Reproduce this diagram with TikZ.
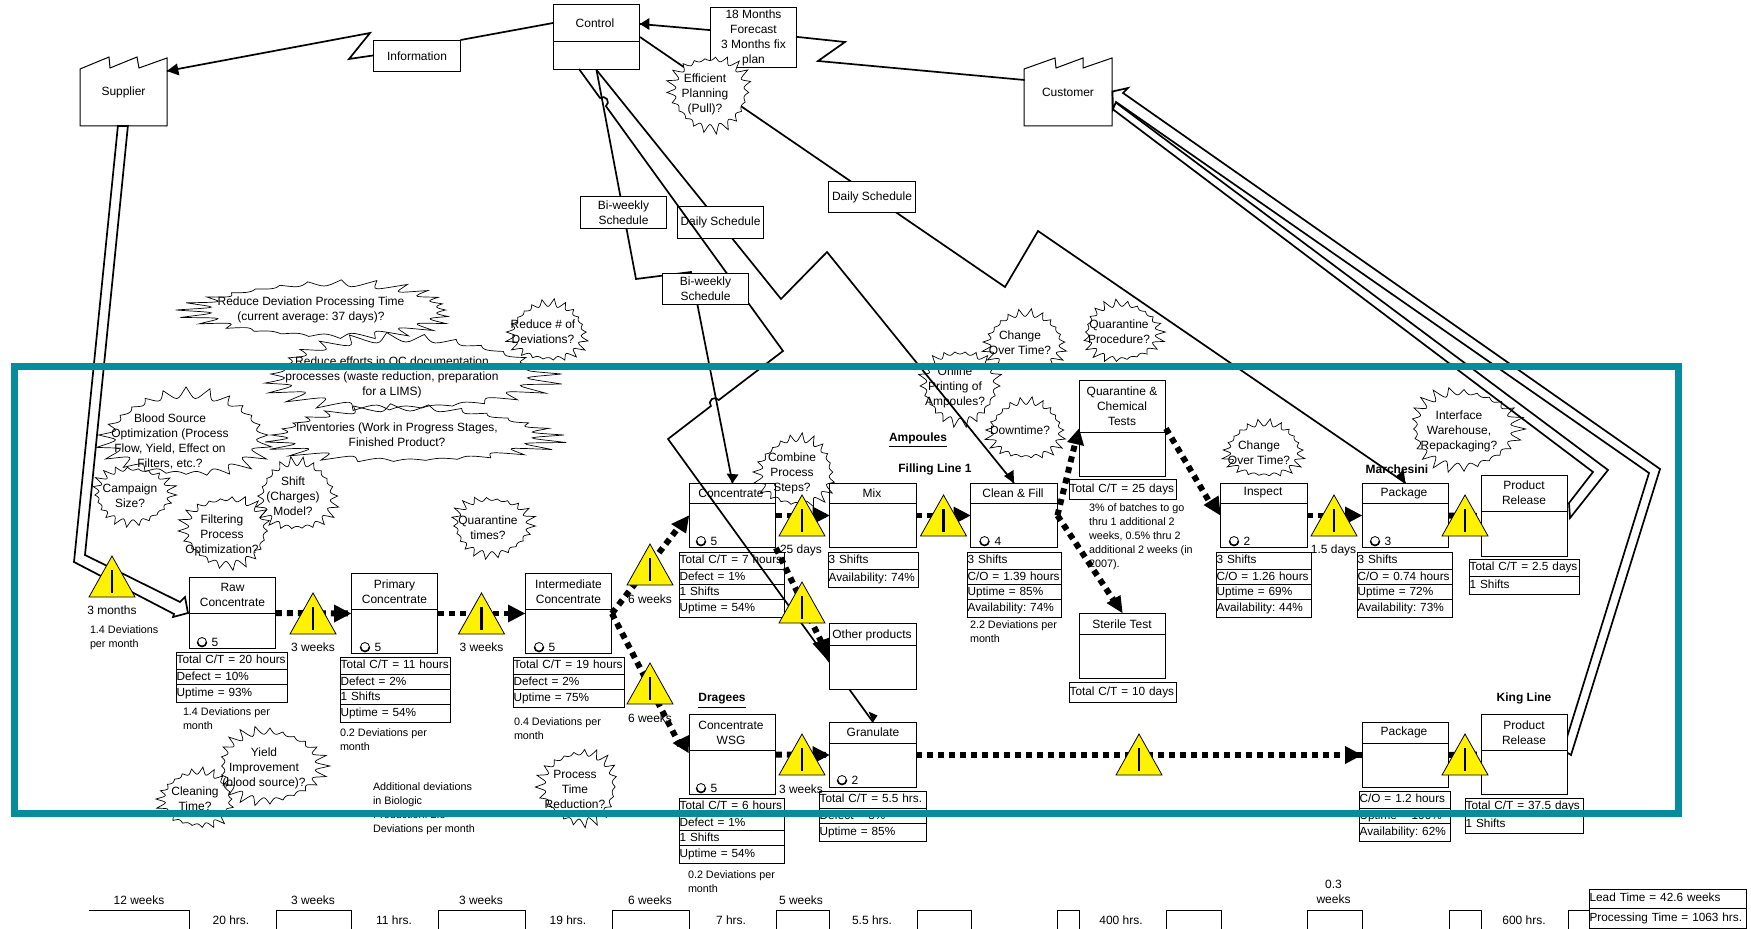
\documentclass[tikz,border=0pt]{standalone}
\usepackage{fontspec}
\setmainfont{Liberation Sans}
\definecolor{framecolor}{HTML}{078C9E}
\newcommand{\burst}[6][]{%
  \pgfmathtruncatemacro{\burstsamples}{8*#6+1}%
  \draw [burstline,#1] plot [domain=0:360,samples=\burstsamples]
    ({#2+#4*(0.8+0.25*(0.6+0.4*sin(3*\x+#2*30))*(1-abs(sin(#6*\x/2))))*cos(\x)},
     {#3+#5*(0.8+0.25*(0.6+0.4*sin(3*\x+#2*30))*(1-abs(sin(#6*\x/2))))*sin(\x)}) -- cycle;
}
\begin{document}
\frenchspacing
\begin{tikzpicture}[scale=0.176]
        \tikzstyle{every node}+=[inner sep=0pt,outer sep=0pt]
        \tikzstyle{procbox}=[draw,fill=white,line width=0.5pt,minimum width=43.5pt]
        \tikzstyle{textbox}=[draw,fill=white,line width=0.5pt,minimum width=43.5pt,align=center,font=\fontsize{6}{7.5}\selectfont]
        \tikzstyle{boxlabel}=[align=center,font=\fontsize{6}{7.5}\selectfont]
        \tikzstyle{headlabel}=[align=center,font=\fontsize{6}{7.5}\selectfont\bfseries]
        \tikzstyle{notelabel}=[anchor=north west,align=left,font=\fontsize{5.4}{7}\selectfont]
        \tikzstyle{datarow}=[draw,fill=white,anchor=north west,line width=0.5pt,inner xsep=0.3pt,minimum height=7.5pt,text height=4.3pt,text depth=1.3pt,align=left,font=\fontsize{5.9}{7}\selectfont]
        \tikzstyle{dataedge}=[datarow,minimum height=8.8pt]
        \tikzstyle{infoline}=[black,line width=0.85pt]
        \tikzstyle{shipline}=[black,line width=0.85pt,line join=miter]
        \tikzstyle{pushline}=[black,line width=3pt,dash pattern=on 3pt off 2.5pt]
        \tikzstyle{burstline}=[black,line width=0.35pt,line join=miter]
        \tikzstyle{warntri}=[draw=black,fill=yellow,line width=0.4pt]
        \tikzstyle{warnbar}=[black,line width=1.3pt]
        \tikzstyle{opicon}=[circle,draw,line width=0.4pt,minimum size=4.5pt]
        \useasboundingbox (0,0) rectangle (175.1,-92.9);
        \fill [white] (0,0) rectangle (175.1,-92.9);
        \node [textbox,minimum height=30.5pt] (months) at (75.35,-3.75) {18 Months\\Forecast\\3 Months fix\\plan};
        \node [textbox,minimum height=16pt] (information) at (41.7,-5.6) {Information};
        \node [procbox,minimum height=33pt] (control) at (59.65,-3.7) {};
        \draw (control.west |- 0,-4.1) -- (control.east |- 0,-4.1);
        \node [boxlabel] (controllabel) at (59.5,-2.3) {Control};
        \draw [black,line width=0.5pt] (8,-12.6) -- (8,-6.9) -- (10.9,-5.7) -- (11,-6.8) -- (13.7,-5.7) -- (13.9,-6.8) -- (16.7,-5.8) -- (16.7,-12.6) -- cycle;
        \node [boxlabel,minimum width=43.5pt,minimum height=34pt] (supplier) at (12.35,-9.2) {Supplier};
        \draw [black,line width=0.5pt] (102.4,-12.6) -- (102.4,-6.9) -- (105.5,-5.8) -- (105.6,-6.8) -- (108.3,-5.8) -- (108.3,-6.8) -- (111.2,-5.8) -- (111.2,-12.6) -- cycle;
        \node [boxlabel,minimum width=43.5pt,minimum height=34pt] (customer) at (106.8,-9.2) {Customer};
        \draw [infoline] ([shift={(0,1.2)}]customer.west) -- (81.8,-6.1) -- (84.5,-4.2) -- ([shift={(0,0.06)}]months.east);
        \draw [infoline] ([shift={(0,0.74)}]months.west) -- ([shift={(0,1.3)}]control.east);
        \fill [black] ([shift={(0,1.3)}]control.east) -- ++(0.95,0.6) -- ++(0,-1.2) -- cycle;
        \draw [infoline] ([shift={(0,1.4)}]control.west) -- (information.north east);
        \draw [infoline] ([shift={(0,0.06)}]information.west) -- (34.9,-5.9) -- (37,-3.3) -- ([shift={(0,2.1)}]supplier.east);
        \fill [black] ([shift={(0,2.1)}]supplier.east) -- ++(1,0.75) -- ++(0.25,-1.2) -- cycle;
        \draw [shipline] ([shift={(-0.56,0)}]supplier.south) -- (7.4,-56.2) -- (17.4,-61.4) -- (17.3,-61.7) -- (18.8,-61.3) -- (18.5,-59.7) -- (18,-60.2) -- (8.5,-55.5) -- ([shift={(0.44,0)}]supplier.south) -- cycle;
        \draw [shipline] ([shift={(0.1,0.05)}]customer.east) -- (112.8,-8.8) -- (112.3,-9.3) -- (166,-46.9) -- (157.1,-75.5) -- (156.3,-75) -- (164.9,-47.3) -- (111.6,-10.2) -- (111.3,-10.9) -- cycle;
        \draw [shipline] ([shift={(0.5,-1.1)}]customer.east) -- (160.8,-47) -- (157,-51.8) -- (156.9,-50.3) -- (159.3,-47.2) -- ([shift={(0.1,-1.7)}]customer.east);
        \node [procbox,minimum height=36pt] (raw) at (23.25,-61.3) {};
        \draw (raw.west |- 0,-61.3) -- (raw.east |- 0,-61.3);
        \node [boxlabel] (rawlabel) at (23.25,-59.5) {Raw\\Concentrate};
        \node [procbox,minimum height=40.5pt] (primary) at (39.45,-61.35) {};
        \draw (primary.west |- 0,-60.9) -- (primary.east |- 0,-60.9);
        \node [boxlabel] (primarylabel) at (39.45,-59.15) {Primary\\Concentrate};
        \node [procbox,minimum height=40.5pt] (intermediate) at (56.85,-61.35) {};
        \draw (intermediate.west |- 0,-60.9) -- (intermediate.east |- 0,-60.9);
        \node [boxlabel] (intermediatelabel) at (56.85,-59.15) {Intermediate\\Concentrate};
        \node [procbox,minimum height=32.5pt] (concentrate) at (73.25,-51.55) {};
        \draw (concentrate.west |- 0,-50.3) -- (concentrate.east |- 0,-50.3);
        \node [boxlabel] (concentratelabel) at (73.1,-49.3) {Concentrate};
        \node [procbox,minimum height=32.5pt] (mix) at (87.3,-51.55) {};
        \draw (mix.west |- 0,-50.3) -- (mix.east |- 0,-50.3);
        \node [boxlabel] (mixlabel) at (87.2,-49.3) {Mix};
        \node [procbox,minimum height=32.5pt] (clean) at (101.4,-51.55) {};
        \draw (clean.west |- 0,-50.3) -- (clean.east |- 0,-50.3);
        \node [boxlabel] (cleanlabel) at (101.3,-49.3) {Clean \& Fill};
        \node [procbox,minimum height=48.5pt] (quarantine) at (112.25,-42.85) {};
        \draw (quarantine.west |- 0,-43.2) -- (quarantine.east |- 0,-43.2);
        \node [boxlabel] (quarantinelabel) at (112.2,-40.6) {Quarantine \&\\Chemical\\Tests};
        \node [procbox,minimum height=32.5pt] (inspect) at (126.4,-51.55) {};
        \draw (inspect.west |- 0,-50.3) -- (inspect.east |- 0,-50.3);
        \node [boxlabel] (inspectlabel) at (126.3,-49.3) {Inspect};
        \node [procbox,minimum height=32.5pt] (package) at (140.55,-51.55) {};
        \draw (package.west |- 0,-50.3) -- (package.east |- 0,-50.3);
        \node [boxlabel] (packagelabel) at (140.4,-49.3) {Package};
        \node [procbox,minimum height=41pt] (prone) at (152.45,-51.6) {};
        \draw (prone.west |- 0,-51.1) -- (prone.east |- 0,-51.1);
        \node [boxlabel] (pronelabel) at (152.4,-49.3) {Product\\Release};
        \node [procbox,minimum height=33pt] (sterile) at (112.25,-64.6) {};
        \draw (sterile.west |- 0,-63.4) -- (sterile.east |- 0,-63.4);
        \node [boxlabel] (sterilelabel) at (112.2,-62.4) {Sterile Test};
        \node [procbox,minimum height=40.5pt] (wsg) at (73.25,-75.45) {};
        \draw (wsg.west |- 0,-75) -- (wsg.east |- 0,-75);
        \node [boxlabel] (wsglabel) at (73.1,-73.25) {Concentrate\\WSG};
        \node [procbox,minimum height=33pt] (granulate) at (87.3,-75.5) {};
        \draw (granulate.west |- 0,-74.3) -- (granulate.east |- 0,-74.3);
        \node [boxlabel] (granulatelabel) at (87.3,-73.2) {Granulate};
        \node [procbox,minimum height=33pt] (packagetwo) at (140.55,-75.5) {};
        \draw (packagetwo.west |- 0,-74.3) -- (packagetwo.east |- 0,-74.3);
        \node [boxlabel] (packagetwolabel) at (140.4,-73.2) {Package};
        \node [procbox,minimum height=40.5pt] (prtwo) at (152.45,-75.45) {};
        \draw (prtwo.west |- 0,-75) -- (prtwo.east |- 0,-75);
        \node [boxlabel] (prtwolabel) at (152.4,-73.25) {Product\\Release};
        \node [dataedge,text width=52.4pt] (concentrateone) at (67.9,-55.2) {Total C/T = 7 hours};
        \node [datarow,text width=52.4pt] (concentratetwo) at (concentrateone.south west) {Defect = 1\%};
        \node [datarow,text width=52.4pt] (concentratethree) at (concentratetwo.south west) {1 Shifts};
        \node [dataedge,text width=52.4pt] (concentratefour) at (concentratethree.south west) {Uptime = 54\%};
        \draw [infoline] (control.south) -- (63.6,-27.9) -- (69.1,-27.2) -- (concentrate.north);
        \fill [black] (concentrate.north) -- ++(-0.6,0.95) -- ++(1.2,-0.1) -- cycle;
        \draw [infoline] (control.south) -- (78.1,-29.9) -- (82.7,-25.2) -- (clean.north);
        \fill [black] (clean.north) -- ++(-1,0.7) -- ++(0.95,0.6) -- cycle;
        \draw [infoline] (control.east) -- (100.5,-28.7) -- (103.8,-23.1) -- (package.north);
        \fill [black] (package.north) -- ++(-1,0.6) -- ++(0.8,0.75) -- cycle;
        \node [textbox,minimum height=16pt] (dailytwo) at (72.05,-22.25) {Daily Schedule};
        \draw [infoline] (57.9,-6.9) -- (60,-9.8) arc [start angle=126,end angle=-54,radius=0.5] -- (78.3,-35.1) -- (71.88,-40) arc [start angle=37.4,end angle=217.4,radius=0.5] -- (66.8,-43.9) -- (granulate.north);
        \fill [black] (granulate.north) -- ++(-0.45,1.05) -- ++(0.9,-0.4) -- cycle;
        \node [procbox,minimum height=33.5pt] (other) at (87.3,-65.65) {};
        \draw (other.west |- 0,-64.5) -- (other.east |- 0,-64.5);
        \node [boxlabel] (otherlabel) at (87.2,-63.5) {Other products};
        \node [textbox,minimum height=16.5pt] (biweeklyone) at (62.35,-21.25) {Bi-weekly\\Schedule};
        \node [textbox,minimum height=16pt] (biweeklytwo) at (70.55,-28.9) {Bi-weekly\\Schedule};
        \node [textbox,minimum height=16pt] (dailyone) at (87.2,-19.7) {Daily Schedule};
        \burst[fill=white]{71}{-9.25}{4.3}{4}{22}
        \node [boxlabel] (efficient) at (70.5,-9.4) {Efficient\\Planning\\(Pull)?};
        \node [dataedge,text width=55.4pt] (rawone) at (17.6,-65.2) {Total C/T = 20 hours};
        \node [datarow,text width=55.4pt] (rawtwo) at (rawone.south west) {Defect = 10\%};
        \node [dataedge,text width=55.4pt] (rawthree) at (rawtwo.south west) {Uptime = 93\%};
        \node [dataedge,text width=54.9pt] (primaryone) at (34,-65.7) {Total C/T = 11 hours};
        \node [datarow,text width=54.9pt] (primarytwo) at (primaryone.south west) {Defect = 2\%};
        \node [datarow,text width=54.9pt] (primarythree) at (primarytwo.south west) {1 Shifts};
        \node [dataedge,text width=54.9pt] (primaryfour) at (primarythree.south west) {Uptime = 54\%};
        \node [dataedge,text width=55.4pt] (intermediateone) at (51.3,-65.7) {Total C/T = 19 hours};
        \node [datarow,text width=55.4pt] (intermediatetwo) at (intermediateone.south west) {Defect = 2\%};
        \node [dataedge,text width=55.4pt] (intermediatethree) at (intermediatetwo.south west) {Uptime = 75\%};
        \node [dataedge,text width=44.9pt] (mixone) at (82.8,-55.2) {3 Shifts};
        \node [dataedge,text width=44.9pt] (mixtwo) at (mixone.south west) {Availability: 74\%};
        \node [dataedge,text width=46.9pt] (cleanone) at (96.7,-55.2) {3 Shifts};
        \node [datarow,text width=46.9pt] (cleantwo) at (cleanone.south west) {C/O = 1.39 hours};
        \node [datarow,text width=46.9pt] (cleanthree) at (cleantwo.south west) {Uptime = 85\%};
        \node [dataedge,text width=46.9pt] (cleanfour) at (cleanthree.south west) {Availability: 74\%};
        \node [dataedge,text width=53.4pt,minimum height=10.5pt] (quarantineone) at (106.9,-47.9) {Total C/T = 25 days};
        \node [dataedge,text width=53.4pt,minimum height=10.5pt] (sterileone) at (106.9,-68.2) {Total C/T = 10 days};
        \node [dataedge,text width=47.4pt] (inspectone) at (121.6,-55.2) {3 Shifts};
        \node [datarow,text width=47.4pt] (inspecttwo) at (inspectone.south west) {C/O = 1.26 hours};
        \node [datarow,text width=47.4pt] (inspectthree) at (inspecttwo.south west) {Uptime = 69\%};
        \node [dataedge,text width=47.4pt] (inspectfour) at (inspectthree.south west) {Availability: 44\%};
        \node [dataedge,text width=47.4pt] (packageone) at (135.7,-55.2) {3 Shifts};
        \node [datarow,text width=47.4pt] (packagetwodata) at (packageone.south west) {C/O = 0.74 hours};
        \node [datarow,text width=47.4pt] (packagethree) at (packagetwodata.south west) {Uptime = 72\%};
        \node [dataedge,text width=47.4pt] (packagefour) at (packagethree.south west) {Availability: 73\%};
        \node [dataedge,text width=54.9pt] (proneone) at (146.9,-55.9) {Total C/T = 2.5 days};
        \node [dataedge,text width=54.9pt] (pronetwo) at (proneone.south west) {1 Shifts};
        \node [dataedge,text width=52.4pt] (wsgone) at (67.9,-79.8) {Total C/T = 6 hours};
        \node [datarow,text width=52.4pt] (wsgtwo) at (wsgone.south west) {Defect = 1\%};
        \node [datarow,text width=52.4pt] (wsgthree) at (wsgtwo.south west) {1 Shifts};
        \node [dataedge,text width=52.4pt] (wsgfour) at (wsgthree.south west) {Uptime = 54\%};
        \node [dataedge,text width=53.4pt] (granulateone) at (81.9,-79.1) {Total C/T = 5.5 hrs.};
        \node [datarow,text width=53.4pt] (granulatetwo) at (granulateone.south west) {Defect = 3\%};
        \node [dataedge,text width=53.4pt] (granulatethree) at (granulatetwo.south west) {Uptime = 85\%};
        \node [dataedge,text width=45.4pt] (packagetwoone) at (135.9,-79.1) {C/O = 1.2 hours};
        \node [datarow,text width=45.4pt] (packagetwotwo) at (packagetwoone.south west) {Uptime = 100\%};
        \node [dataedge,text width=45.4pt] (packagetwothree) at (packagetwotwo.south west) {Availability: 62\%};
        \node [dataedge,text width=58.9pt] (prtwoone) at (146.5,-79.8) {Total C/T = 37.5 days};
        \node [dataedge,text width=58.9pt] (prtwotwo) at (prtwoone.south west) {1 Shifts};
        \node [opicon] (rawop) at (20.2,-64.2) {};
        \draw [line width=0.8pt] (rawop.west) arc [start angle=180,end angle=360,radius=0.45];
        \node [boxlabel] (rawcount) at (21.5,-64.2) {5};
        \node [opicon] (primaryop) at (36.5,-64.7) {};
        \draw [line width=0.8pt] (primaryop.west) arc [start angle=180,end angle=360,radius=0.45];
        \node [boxlabel] (primarycount) at (37.8,-64.7) {5};
        \node [opicon] (intermediateop) at (53.9,-64.7) {};
        \draw [line width=0.8pt] (intermediateop.west) arc [start angle=180,end angle=360,radius=0.45];
        \node [boxlabel] (intermediatecount) at (55.2,-64.7) {5};
        \node [opicon] (concentrateop) at (70.1,-54.1) {};
        \draw [line width=0.8pt] (concentrateop.west) arc [start angle=180,end angle=360,radius=0.45];
        \node [boxlabel] (concentratecount) at (71.4,-54.1) {5};
        \node [opicon] (wsgop) at (70.1,-78.8) {};
        \draw [line width=0.8pt] (wsgop.west) arc [start angle=180,end angle=360,radius=0.45];
        \node [boxlabel] (wsgcount) at (71.4,-78.8) {5};
        \node [opicon] (granulateop) at (84.2,-78) {};
        \draw [line width=0.8pt] (granulateop.west) arc [start angle=180,end angle=360,radius=0.45];
        \node [boxlabel] (granulatecount) at (85.5,-78) {2};
        \node [opicon] (cleanop) at (98.45,-54.1) {};
        \draw [line width=0.8pt] (cleanop.west) arc [start angle=180,end angle=360,radius=0.45];
        \node [boxlabel] (cleancount) at (99.8,-54.1) {4};
        \node [opicon] (inspectop) at (123.4,-54.1) {};
        \draw [line width=0.8pt] (inspectop.west) arc [start angle=180,end angle=360,radius=0.45];
        \node [boxlabel] (inspectcount) at (124.7,-54.1) {2};
        \node [opicon] (packageop) at (137.5,-54.1) {};
        \draw [line width=0.8pt] (packageop.west) arc [start angle=180,end angle=360,radius=0.45];
        \node [boxlabel] (packagecount) at (138.8,-54.1) {3};
        \draw [pushline] (raw.east) -- (primary.west);
        \fill [black] (primary.west) -- ++(-1.7,0.9) -- ++(0,-1.8) -- cycle;
        \draw [pushline] (primary.east) -- (intermediate.west);
        \fill [black] (intermediate.west) -- ++(-1.7,0.9) -- ++(0,-1.8) -- cycle;
        \draw [pushline] (intermediate.east) -- ([shift={(-0.9,-1.0)}]concentrate.west);
        \fill [black] (concentrate.west) -- ++(-1.8,-0.85) -- ++(1.5,-0.95) -- cycle;
        \draw [pushline] (intermediate.east) -- ([shift={(-0.9,0.9)}]wsg.west);
        \fill [black] (wsg.west) ++(0,1.95) -- ++(-1.65,-0.8) -- ++(1.6,-1) -- cycle;
        \draw [pushline] (concentrate.east) -- (mix.west);
        \fill [black] (mix.west) -- ++(-1.7,0.9) -- ++(0,-1.8) -- cycle;
        \draw [pushline] (mix.east) -- (clean.west);
        \fill [black] (clean.west) -- ++(-1.7,0.9) -- ++(0,-1.8) -- cycle;
        \draw [pushline] (concentrate.south east) -- ([shift={(-0.7,1.2)}]other.west);
        \fill [black] (other.west) ++(0,1.9) -- ++(-1.7,-0.6) -- ++(1.7,-1.9) -- cycle;
        \draw [pushline] (clean.east) -- ([shift={(-0.4,-1.5)}]quarantine.west);
        \fill [black] (quarantine.west) -- ++(-1.2,-1.35) -- ++(1.7,-0.4) -- cycle;
        \draw [pushline] (clean.east) -- ([shift={(-0.7,1)}]sterile.north);
        \fill [black] (sterile.north) -- ++(-1.6,1) -- ++(1.4,0.8) -- cycle;
        \draw [pushline] (quarantine.east) -- ([shift={(-0.9,1)}]inspect.west);
        \fill [black] (inspect.west) -- ++(-1.7,1.05) -- ++(1.5,0.95) -- cycle;
        \draw [pushline] (inspect.east) -- (package.west);
        \fill [black] (package.west) -- ++(-1.7,0.9) -- ++(0,-1.8) -- cycle;
        \draw [pushline] (package.east) -- (prone.west);
        \draw [pushline] (wsg.east) -- (granulate.west);
        \fill [black] (granulate.west) -- ++(-1.7,0.9) -- ++(0,-1.8) -- cycle;
        \draw [pushline] (granulate.east) -- (packagetwo.west);
        \fill [black] (packagetwo.west) -- ++(-1.7,0.9) -- ++(0,-1.8) -- cycle;
        \draw [pushline] (packagetwo.east) -- (prtwo.west);
        \burst{32.4}{-31}{14.2}{3}{26}
        \burst{54.8}{-33.2}{4.2}{3.2}{22}
        \burst{40.6}{-37.4}{15.3}{4}{26}
        \burst{41}{-43.5}{15.4}{3}{26}
        \burst{18.6}{-43.5}{8.9}{4.6}{24}
        \burst{13.3}{-49.5}{4.3}{3.1}{22}
        \burst{22.6}{-53.1}{4.7}{3.8}{22}
        \burst{29.7}{-49.6}{4.2}{3.8}{22}
        \burst{49.2}{-52.6}{4.3}{3.2}{22}
        \burst{79.6}{-47.2}{4.2}{3.8}{22}
        \burst{27}{-76.6}{5.7}{4}{24}
        \burst{19.7}{-79.9}{4}{3.1}{22}
        \burst{57.9}{-78.7}{4.2}{4}{22}
        \burst{102.5}{-34.2}{4.3}{3.2}{22}
        \burst{112.2}{-33.2}{4.2}{3.2}{22}
        \burst{96}{-38.6}{4.2}{4}{22}
        \burst{102.6}{-43}{4.1}{3.2}{22}
        \burst{126.4}{-45}{4.2}{3}{22}
        \burst{146.4}{-42.9}{5.9}{4.3}{24}
        \node [boxlabel] (deviationtime) at (31.1,-31) {Reduce Deviation Processing Time\\(current average: 37 days)?};
        \node [boxlabel] (deviationcount) at (54.3,-33.2) {Reduce \# of\\Deviations?};
        \node [boxlabel] (qcefforts) at (39.2,-37.7) {Reduce efforts in QC documentation\\processes (waste reduction, preparation\\for a LIMS)};
        \node [boxlabel] (inventories) at (39.7,-43.5) {Inventories (Work in Progress Stages,\\Finished Product?};
        \node [boxlabel] (bloodsource) at (17,-44.1) {Blood Source\\Optimization (Process\\Flow, Yield, Effect on\\Filters, etc.?};
        \node [boxlabel] (campaign) at (13,-49.6) {Campaign\\Size?};
        \node [boxlabel] (filtering) at (22.2,-53.5) {Filtering\\Process\\Optimization?};
        \node [boxlabel] (shift) at (29.3,-49.6) {Shift\\(Charges)\\Model?};
        \node [boxlabel] (quarantinetimes) at (48.8,-52.8) {Quarantine\\times?};
        \node [boxlabel] (combine) at (79.2,-47.3) {Combine\\Process\\Steps?};
        \node [boxlabel] (yield) at (26.4,-76.8) {Yield\\Improvement\\(blood source)?};
        \node [boxlabel] (cleaning) at (19.5,-79.9) {Cleaning\\Time?};
        \node [boxlabel] (processtime) at (57.5,-78.9) {Process\\Time\\Reduction?};
        \node [boxlabel] (changeone) at (102,-34.3) {Change\\Over Time?};
        \node [boxlabel] (procedure) at (111.9,-33.2) {Quarantine\\Procedure?};
        \node [boxlabel] (online) at (95.5,-38.7) {Online\\Printing of\\Ampoules?};
        \node [boxlabel] (downtime) at (102,-43) {Downtime?};
        \node [boxlabel] (changetwo) at (125.9,-45.3) {Change\\Over Time?};
        \node [boxlabel] (interface) at (145.9,-43.1) {Interface\\Warehouse,\\Repackaging?};
        \filldraw [warntri] (11.2,-55.6) -- ++(-2.3,-4.1) -- ++(4.6,0) -- cycle;
        \draw [warnbar] (11.2,-57) -- ++(0,-2.3);
        \filldraw [warntri] (31.3,-59.3) -- ++(-2.3,-4.1) -- ++(4.6,0) -- cycle;
        \draw [warnbar] (31.3,-60.7) -- ++(0,-2.3);
        \filldraw [warntri] (48.15,-59.3) -- ++(-2.3,-4.1) -- ++(4.6,0) -- cycle;
        \draw [warnbar] (48.15,-60.7) -- ++(0,-2.3);
        \filldraw [warntri] (65,-54.4) -- ++(-2.3,-4.1) -- ++(4.6,0) -- cycle;
        \draw [warnbar] (65,-55.8) -- ++(0,-2.3);
        \filldraw [warntri] (65,-66.3) -- ++(-2.3,-4.1) -- ++(4.6,0) -- cycle;
        \draw [warnbar] (65,-67.7) -- ++(0,-2.3);
        \filldraw [warntri] (80.2,-49.5) -- ++(-2.3,-4.1) -- ++(4.6,0) -- cycle;
        \draw [warnbar] (80.2,-50.9) -- ++(0,-2.3);
        \filldraw [warntri] (80.2,-58.2) -- ++(-2.3,-4.1) -- ++(4.6,0) -- cycle;
        \draw [warnbar] (80.2,-59.6) -- ++(0,-2.3);
        \filldraw [warntri] (80.2,-73.4) -- ++(-2.3,-4.1) -- ++(4.6,0) -- cycle;
        \draw [warnbar] (80.2,-74.8) -- ++(0,-2.3);
        \filldraw [warntri] (94.35,-49.5) -- ++(-2.3,-4.1) -- ++(4.6,0) -- cycle;
        \draw [warnbar] (94.35,-50.9) -- ++(0,-2.3);
        \filldraw [warntri] (133.4,-49.5) -- ++(-2.3,-4.1) -- ++(4.6,0) -- cycle;
        \draw [warnbar] (133.4,-50.9) -- ++(0,-2.3);
        \filldraw [warntri] (146.5,-49.5) -- ++(-2.3,-4.1) -- ++(4.6,0) -- cycle;
        \draw [warnbar] (146.5,-50.9) -- ++(0,-2.3);
        \filldraw [warntri] (113.9,-73.4) -- ++(-2.3,-4.1) -- ++(4.6,0) -- cycle;
        \draw [warnbar] (113.9,-74.8) -- ++(0,-2.3);
        \filldraw [warntri] (146.5,-73.4) -- ++(-2.3,-4.1) -- ++(4.6,0) -- cycle;
        \draw [warnbar] (146.5,-74.8) -- ++(0,-2.3);
        \node [boxlabel] (threemonths) at (11.2,-61) {3 months};
        \node [boxlabel] (waitone) at (31.3,-64.7) {3 weeks};
        \node [boxlabel] (waittwo) at (48.15,-64.7) {3 weeks};
        \node [boxlabel] (waitthree) at (65,-59.9) {6 weeks};
        \node [boxlabel] (waitfour) at (65,-71.8) {6 weeks};
        \node [boxlabel] (waitfive) at (80.1,-55) {25 days};
        \node [boxlabel] (waitsix) at (80.1,-78.9) {3 weeks};
        \node [boxlabel] (waitseven) at (133.35,-55) {1.5 days};
        \node [headlabel] (ampoules) at (91.8,-44) {\underline{Ampoules}};
        \node [headlabel] (fillingline) at (93.5,-46.9) {Filling Line 1};
        \node [headlabel] (marchesini) at (139.7,-46.9) {Marchesini};
        \node [headlabel] (dragees) at (72.2,-70.1) {\underline{Dragees}};
        \node [headlabel] (kingline) at (152.4,-69.8) {King Line};
        \node [notelabel] (noteone) at (9,-62.6) {1.4 Deviations\\per month};
        \node [notelabel] (notetwo) at (18.3,-70.8) {1.4 Deviations per\\month};
        \node [notelabel] (notethree) at (34,-72.9) {0.2 Deviations per\\month};
        \node [notelabel] (notefour) at (51.4,-71.8) {0.4 Deviations per\\month};
        \node [notelabel] (notefive) at (68.8,-87.1) {0.2 Deviations per\\month};
        \node [notelabel] (notesix) at (37.3,-78.3) {Additional deviations\\in Biologic\\Production: 2.8\\Deviations per month};
        \node [notelabel] (noteseven) at (97,-62.1) {2.2 Deviations per\\month};
        \node [notelabel] (noteeight) at (108.9,-50.4) {3\% of batches to go\\thru 1 additional 2\\weeks, 0.5\% thru 2\\additional 2 weeks (in\\2007).};
        \draw [black,line width=0.5pt] (8.9,-91) -- (18.9,-91) -- (18.9,-92.9);
        \draw [black,line width=0.5pt] (27.6,-92.9) -- (27.6,-91) -- (35.1,-91) -- (35.1,-92.9);
        \draw [black,line width=0.5pt] (43.8,-92.9) -- (43.8,-91) -- (52.5,-91) -- (52.5,-92.9);
        \draw [black,line width=0.5pt] (61.2,-92.9) -- (61.2,-91) -- (68.9,-91) -- (68.9,-92.9);
        \draw [black,line width=0.5pt] (77.6,-92.9) -- (77.6,-91) -- (82.9,-91) -- (82.9,-92.9);
        \draw [black,line width=0.5pt] (91.7,-92.9) -- (91.7,-91) -- (97.1,-91) -- (97.1,-92.9);
        \draw [black,line width=0.5pt] (105.7,-92.9) -- (105.7,-91) -- (107.9,-91) -- (107.9,-92.9);
        \draw [black,line width=0.5pt] (116.6,-92.9) -- (116.6,-91) -- (122.1,-91) -- (122.1,-92.9);
        \draw [black,line width=0.5pt] (130.7,-92.9) -- (130.7,-91) -- (136.2,-91) -- (136.2,-92.9);
        \draw [black,line width=0.5pt] (144.9,-92.9) -- (144.9,-91) -- (148.1,-91) -- (148.1,-92.9);
        \draw [black,line width=0.5pt] (156.8,-92.9) -- (156.8,-91) -- (158.9,-91);
        \node [boxlabel] (timeone) at (13.9,-90) {12 weeks};
        \node [boxlabel] (timetwo) at (31.3,-90) {3 weeks};
        \node [boxlabel] (timethree) at (48.1,-90) {3 weeks};
        \node [boxlabel] (timefour) at (65,-90) {6 weeks};
        \node [boxlabel] (timefive) at (80.1,-90) {5 weeks};
        \node [boxlabel] (timesix) at (133.35,-89.2) {0.3\\weeks};
        \node [boxlabel] (hoursone) at (23.1,-92) {20 hrs.};
        \node [boxlabel] (hourstwo) at (39.4,-92) {11 hrs.};
        \node [boxlabel] (hoursthree) at (56.8,-92) {19 hrs.};
        \node [boxlabel] (hoursfour) at (73.1,-92) {7 hrs.};
        \node [boxlabel] (hoursfive) at (87.2,-92) {5.5 hrs.};
        \node [boxlabel] (hourssix) at (112.1,-92) {400 hrs.};
        \node [boxlabel] (hoursseven) at (152.4,-92) {600 hrs.};
        \node [datarow,text width=78.4pt,minimum height=10pt] (leadtime) at (158.9,-88.9) {Lead Time = 42.6 weeks};
        \node [datarow,text width=78.4pt,minimum height=10pt] (processingtime) at (leadtime.south west) {Processing Time = 1063 hrs.};
        \draw [framecolor,line width=3.5pt] (1.45,-36.65) rectangle (167.85,-81.3);
\end{tikzpicture}
\end{document}
